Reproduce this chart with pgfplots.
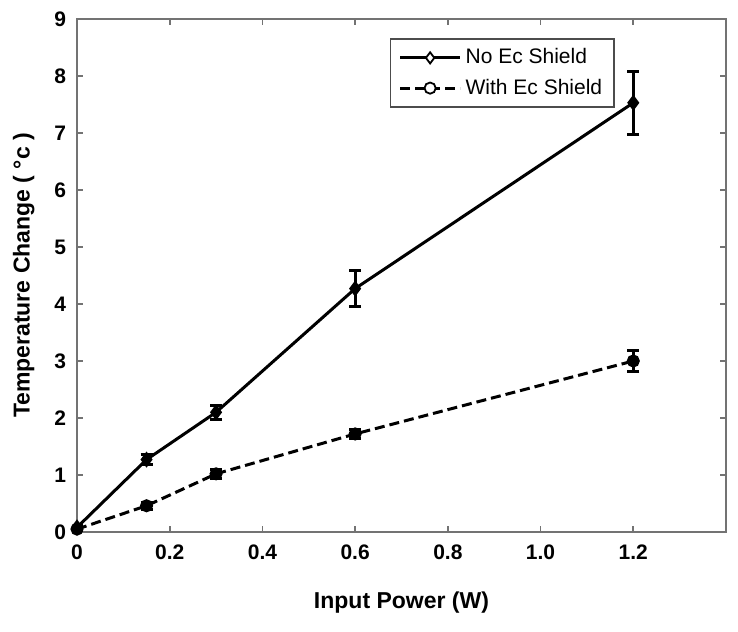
\documentclass[border=0pt]{standalone}
\usepackage{pgfplots}
\pgfplotsset{compat=1.18}
\usepackage{fontspec}
\setmainfont{Liberation Sans}
\begin{document}
\begin{tikzpicture}
\begin{axis}[
  scale only axis,
  width=324.5pt, height=256.5pt,
  xmin=0, xmax=1.4, ymin=0, ymax=9,
  xtick={0,0.2,0.4,0.6,0.8,1.0,1.2},
  xticklabels={0,0.2,0.4,0.6,0.8,1.0,1.2},
  ytick={0,1,...,9},
  tick align=inside,
  major tick length=3pt,
  axis line style={black!55, line width=0.8pt},
  tick style={black!55, line width=0.8pt},
  ticklabel style={font=\fontsize{10.5}{12}\selectfont\bfseries},
  /pgf/number format/assume math mode=true,
  xlabel={Input Power (W)},
  ylabel={Temperature Change ( °c )},
  label style={font=\fontsize{11.5}{13}\selectfont\bfseries},
  xlabel style={yshift=-9pt},
  ylabel style={yshift=3pt},
  xticklabel style={yshift=-3pt},
  yticklabel style={xshift=-2pt},
  legend style={at={(rel axis cs:0.482,0.963)}, anchor=north west,
    font=\fontsize{10.5}{12}\selectfont, draw=black!70, line width=0.8pt,
    inner xsep=4pt, inner ysep=3pt, row sep=2pt},
  legend image code/.code={\draw[#1, mark repeat=2, mark phase=2] plot coordinates {(0pt,0pt) (15pt,0pt) (30pt,0pt)};},
  legend image post style={mark options={solid, fill=white, line width=0.9pt}, mark size=2.8pt},
  legend cell align=left,
]
\addplot[black, line width=1.5pt, mark=diamond*, mark size=2.8pt,
  mark options={solid, fill=black},
  error bars/.cd, y dir=both, y explicit,
  error bar style={line width=1.5pt, solid}, error mark options={rotate=90, mark size=3pt, line width=1.5pt}]
  coordinates {
  (0,0.08) +- (0,0.03)
  (0.15,1.27) +- (0,0.09)
  (0.3,2.10) +- (0,0.12)
  (0.6,4.27) +- (0,0.31)
  (1.2,7.53) +- (0,0.55)
  };
\addlegendentry{No Ec Shield}
\addplot[black, line width=1.5pt, dash pattern=on 5pt off 2.5pt, mark=*, mark size=2.5pt,
  mark options={solid, fill=black},
  error bars/.cd, y dir=both, y explicit,
  error bar style={line width=1.5pt, solid}, error mark options={rotate=90, mark size=3pt, line width=1.5pt}]
  coordinates {
  (0,0.05) +- (0,0.03)
  (0.15,0.46) +- (0,0.06)
  (0.3,1.02) +- (0,0.08)
  (0.6,1.72) +- (0,0.08)
  (1.2,3.00) +- (0,0.18)
  };
\addlegendentry{With Ec Shield}
\end{axis}
\pgfresetboundingbox
\path ([shift={(-38.5pt,-50pt)}]current axis.south west) rectangle ([shift={(6pt,9.5pt)}]current axis.north east);
\end{tikzpicture}
\end{document}
